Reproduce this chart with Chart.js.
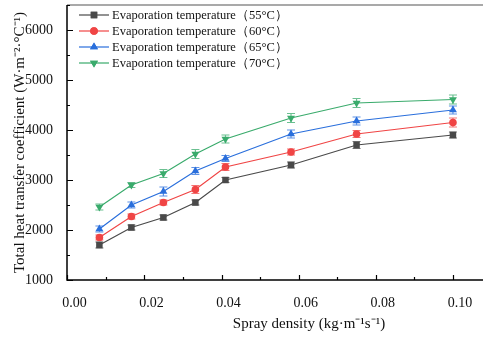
<!DOCTYPE html>
<html>
<head>
<meta charset="utf-8">
<script src="https://cdn.jsdelivr.net/npm/chart.js@4"></script>
<style>
  html, body { margin: 0; padding: 0; background: #fff; }
  #wrap { width: 483px; height: 338px; }
</style>
</head>
<body>
<div id="wrap"><canvas id="chart" width="483" height="338"></canvas></div>
<script>
// spray density (kg m-1 s-1)
const sprayDensity = [0.0083, 0.0166, 0.0249, 0.0332, 0.041, 0.058, 0.075, 0.1];

const seriesLabels = [
  "Evaporation temperature\uFF0855\u00B0C\uFF09",
  "Evaporation temperature\uFF0860\u00B0C\uFF09",
  "Evaporation temperature\uFF0865\u00B0C\uFF09",
  "Evaporation temperature\uFF0870\u00B0C\uFF09"
];

const k55 = [1700, 2050, 2250, 2550, 3000, 3300, 3700, 3900];
const k60 = [1850, 2270, 2550, 2810, 3260, 3560, 3920, 4150];
const k65 = [2020, 2500, 2770, 3180, 3430, 3920, 4180, 4400];
const k70 = [2460, 2900, 3130, 3520, 3820, 4240, 4540, 4610];

const err55 = [60, 50, 50, 50, 50, 60, 70, 60];
const err60 = [50, 50, 50, 80, 70, 60, 70, 90];
const err65 = [60, 60, 90, 70, 60, 80, 80, 80];
const err70 = [60, 50, 80, 90, 80, 90, 90, 90];

const xTicks = [0, 0.02, 0.04, 0.06, 0.08, 0.1];
const yTicks = [1000, 2000, 3000, 4000, 5000, 6000];

const xTitle = "Spray density (kg\u00B7m\u207B\u00B9s\u207B\u00B9)";
const yTitle = "Total heat transfer coefficient (W\u00B7m\u207B\u00B2\u00B7\u00B0C\u207B\u00B9)";

const serif = "'Liberation Serif', 'Times New Roman', serif";
const colors = ["#4a4a4a", "#f04545", "#2a6fdc", "#3aab6c"];
const styles = ["rect", "circle", "triangle", "triangle"];
const rotations = [0, 0, 0, 180];
const allValues = [k55, k60, k65, k70];
const allErrors = [err55, err60, err65, err70];

const datasets = allValues.map((vals, i) => ({
  label: seriesLabels[i],
  data: vals.map((v, j) => ({ x: sprayDensity[j], y: v })),
  errors: allErrors[i],
  borderColor: colors[i],
  backgroundColor: colors[i],
  borderWidth: 1.2,
  pointStyle: styles[i],
  rotation: rotations[i],
  pointRadius: styles[i] === "circle" ? 3.8 : 4.6,
  pointBorderWidth: 0,
  tension: 0
}));

// error bars, frame, ticks, legend and titles
const decor = {
  id: "decor",
  afterDatasetsDraw(chart) {
    const ctx = chart.ctx;
    const xs = chart.scales.x, ys = chart.scales.y;
    ctx.save();
    chart.data.datasets.forEach((ds) => {
      ctx.strokeStyle = ds.borderColor;
      ctx.globalAlpha = 0.75;
      ctx.lineWidth = 1.2;
      ds.data.forEach((p, j) => {
        const px = xs.getPixelForValue(p.x);
        const top = ys.getPixelForValue(p.y + ds.errors[j]);
        const bot = ys.getPixelForValue(p.y - ds.errors[j]);
        ctx.beginPath();
        ctx.moveTo(px, top); ctx.lineTo(px, bot);
        ctx.moveTo(px - 4, top); ctx.lineTo(px + 4, top);
        ctx.moveTo(px - 4, bot); ctx.lineTo(px + 4, bot);
        ctx.stroke();
      });
    });
    ctx.restore();
  },
  afterDraw(chart) {
    const ctx = chart.ctx;
    const a = chart.chartArea;
    const xs = chart.scales.x, ys = chart.scales.y;
    ctx.save();
    // frame
    ctx.strokeStyle = "#000";
    ctx.lineWidth = 1.5;
    ctx.beginPath();
    ctx.moveTo(a.left, a.top); ctx.lineTo(a.left, a.bottom); ctx.lineTo(chart.width, a.bottom);
    ctx.stroke();
    ctx.strokeStyle = "#555";
    ctx.lineWidth = 1.2;
    ctx.beginPath();
    ctx.moveTo(a.left, a.top); ctx.lineTo(chart.width, a.top);
    ctx.stroke();
    // inward ticks
    ctx.strokeStyle = "#000";
    ctx.lineWidth = 1.2;
    ctx.beginPath();
    for (let v = 0; v <= xs.max + 1e-9; v += 0.01) {
      const px = Math.round(xs.getPixelForValue(v)) + 0.5;
      const major = Math.round(v * 100) % 2 === 0;
      ctx.moveTo(px, a.bottom); ctx.lineTo(px, a.bottom - (major ? 5 : 3));
    }
    for (let v = ys.min; v <= 6500; v += 500) {
      const py = Math.round(ys.getPixelForValue(v)) + 0.5;
      const major = v % 1000 === 0;
      ctx.moveTo(a.left, py); ctx.lineTo(a.left + (major ? 6 : 3), py);
    }
    ctx.stroke();
    // legend
    ctx.font = "12.5px " + serif;
    ctx.textBaseline = "middle";
    chart.data.datasets.forEach((ds, i) => {
      const y = 15 + i * 16;
      ctx.strokeStyle = ds.borderColor;
      ctx.globalAlpha = 0.8;
      ctx.lineWidth = 1.5;
      ctx.beginPath();
      ctx.moveTo(79, y); ctx.lineTo(109, y);
      ctx.stroke();
      ctx.globalAlpha = 1;
      ctx.fillStyle = ds.borderColor;
      Chart.helpers.drawPoint(ctx, {
        pointStyle: ds.pointStyle, rotation: ds.rotation,
        radius: ds.pointRadius, borderWidth: 0
      }, 94, y);
      ctx.fill();
      ctx.fillStyle = "#111";
      ctx.fillText(ds.label, 112, y + 1);
    });
    // axis titles
    ctx.fillStyle = "#111";
    ctx.font = "15px " + serif;
    ctx.textAlign = "center";
    ctx.fillText(xTitle, 309, 324);
    ctx.translate(20, (a.top + a.bottom) / 2);
    ctx.rotate(-Math.PI / 2);
    ctx.fillText(yTitle, 0, 0);
    ctx.restore();
  }
};

new Chart(document.getElementById("chart"), {
  type: "line",
  data: { datasets: datasets },
  options: {
    responsive: false,
    animation: false,
    layout: { padding: { top: 5, right: 0, left: 0, bottom: 0 } },
    plugins: {
      legend: { display: false },
      tooltip: { enabled: false }
    },
    scales: {
      x: {
        type: "linear",
        min: -0.0001,
        max: 0.1066,
        afterBuildTicks: (s) => { s.ticks = xTicks.map((v) => ({ value: v })); },
        afterFit: (s) => { s.height = 58; s.paddingLeft = 0; s.paddingRight = 0; },
        grid: { display: false },
        border: { display: false },
        ticks: {
          padding: 7,
          labelOffset: 7,
          color: "#111",
          font: { family: serif, size: 14 },
          callback: (v) => v.toFixed(2)
        }
      },
      y: {
        min: 1000,
        max: 6500,
        afterBuildTicks: (s) => { s.ticks = yTicks.map((v) => ({ value: v })); },
        afterFit: (s) => { s.width = 67; s.paddingTop = 0; s.paddingBottom = 0; },
        grid: { display: false },
        border: { display: false },
        ticks: {
          padding: 6,
          color: "#111",
          font: { family: serif, size: 14 },
          callback: (v) => String(v)
        }
      }
    }
  },
  plugins: [decor]
});
</script>
</body>
</html>
